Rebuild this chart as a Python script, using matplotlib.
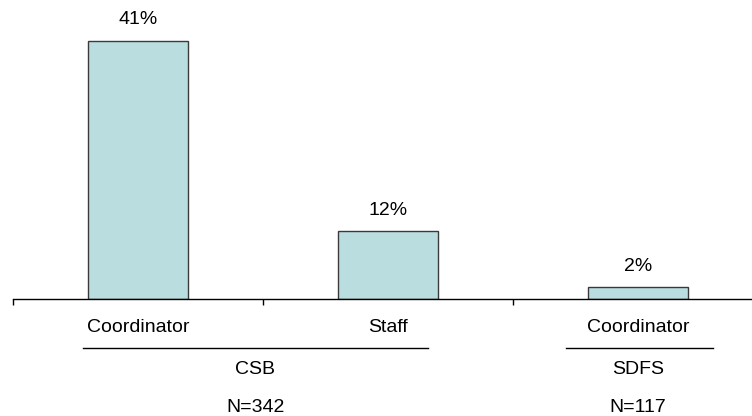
import matplotlib.pyplot as plt

# === data ===
roles = ['Coordinator', 'Staff', 'Coordinator']
heights = [41, 10.8, 1.9]
value_labels = ['41%', '12%', '2%']
groups = ['CSB', 'SDFS']
group_n = ['N=342', 'N=117']

plt.rcParams['font.family'] = ['Liberation Sans', 'DejaVu Sans']
FS = 14

fig = plt.figure(figsize=(7.52, 4.16), dpi=100)
W, H = 752, 416
ax = fig.add_axes([13 / W, 117 / H, 739 / W, 299 / H])

x = list(range(len(roles)))
bars = ax.bar(x, heights, width=0.4, color='#BADDE0', edgecolor='#3a3a3a', linewidth=1)
ax.set_xlim(-0.5, -0.5 + 739 / 250)
ax.set_ylim(0, 47.5)

for b, lab in zip(bars, value_labels):
    ax.annotate(lab, (b.get_x() + b.get_width() / 2, b.get_height()),
                xytext=(0, 9), textcoords='offset points',
                ha='center', va='bottom', fontsize=FS)

for s in ['top', 'right', 'left']:
    ax.spines[s].set_visible(False)
ax.spines['bottom'].set_linewidth(1)
ax.set_yticks([])
ax.set_xticks([-0.5, 0.5, 1.5])
ax.set_xticklabels([])
ax.tick_params(axis='x', direction='out', length=4, width=1)

# category labels below the axis
trans = ax.get_xaxis_transform()
for xi, r in zip(x, roles):
    ax.text(xi, -29 / 299, r, transform=trans, ha='center', va='center', fontsize=FS)

# group lines and names
group_spans = [(-0.22, 1.16), (1.71, 2.3)]
group_centers = [0.47, 2.0]
for (a, b), c, g, n in zip(group_spans, group_centers, groups, group_n):
    ax.plot([a, b], [-49 / 299, -49 / 299], transform=trans, color='black',
            linewidth=1, clip_on=False)
    ax.text(c, -71 / 299, g, transform=trans, ha='center', va='center', fontsize=FS)
    ax.text(c, -108 / 299, n, transform=trans, ha='center', va='center', fontsize=FS)

plt.savefig('out.png', dpi=100)
